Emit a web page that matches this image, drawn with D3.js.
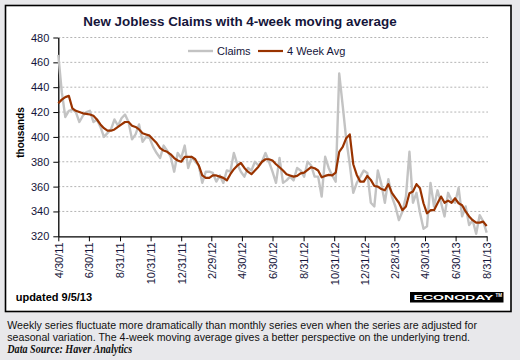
<!DOCTYPE html>
<html><head><meta charset="utf-8">
<script src="https://cdn.jsdelivr.net/npm/d3@7"></script>
<style>
html,body{margin:0;padding:0;background:#e8e8eb;}
svg{display:block;font-family:Arial,"Liberation Sans",sans-serif;}
</style></head><body>
<svg id="chart" width="520" height="360"></svg>
<script>
// ---- data ----
const firstWeek = "4/30/11";          // weekly data, week ending Saturdays
const claims = [466,436,416,421,422,420,412,417,420,421,
  412,414,408,400,403,406,414,409,415,418,
  412,398,402,410,396,400,399,392,387,383,
  393,389,384,372,387,383,393,375,384,380,
  377,363,372,372,371,364,369,363,373,372,
  387,378,372,368,375,373,380,377,380,387,
  380,372,363,383,363,365,368,365,375,373,
  368,380,377,368,368,352,384,375,369,364,
  451,425,398,378,355,363,368,373,371,347,
  344,373,362,347,366,352,344,333,340,352,
  388,347,355,339,326,328,363,344,357,347,
  336,355,349,347,359,336,344,329,333,322,
  337,332,323];
const avg4 = [427,430,432,433,423,421,420,419,418.5,418,
  417,414,410,407,405,405,406,408,410,412,
  412,409,408,406,403,402,401,398,395,391,
  389,388,386,383,381,380,384,384,384,382,
  377,369,367,367,369,369,368,367,365,370,
  374,377,379,375,372,370,373,376,380,382,
  382,381,378,375.6,373,370,369,368,368.6,370.7,
  371.3,373.4,375.6,374.8,373,367.5,368.6,369.4,369,371.3,
  388,392,399,402,378,369.4,364,364,368.6,365.4,
  360.5,360,358,357,362,355,351,347,341,344,
  354.6,356,362,358.7,346.6,338.5,341,341,346.6,352,
  347,348.7,347,350.6,346.6,345,340,336,333,331,
  331,331.8,328.3];
const xTickLabels = ["4/30/11","6/30/11","8/31/11","10/31/11","12/31/11","2/29/12",
  "4/30/12","6/30/12","8/31/12","10/31/12","12/31/12","2/28/13","4/30/13","6/30/13","8/31/13"];
const yTickValues = [320,340,360,380,400,420,440,460,480];
const seriesNames = ["Claims","4 Week Avg"];
const titleText = "New Jobless Claims with 4-week moving average";

// ---- drawing ----
const svg = d3.select("#chart");
const parse = d3.timeParse("%m/%d/%y");
const tickDates = xTickLabels.map(parse);
const start = parse(firstWeek);
const weeks = claims.map((_, i) => d3.timeDay.offset(start, 7 * i));

const x = d3.scaleTime().domain([tickDates[0], tickDates[tickDates.length - 1]]).range([58.3, 486.7]);
const y = d3.scaleLinear().domain([320, 480]).range([236.3, 37.5]);

const navy = "#15153a";

// panel
svg.append("rect").attr("x", 5.5).attr("y", 5.5).attr("width", 505.5).attr("height", 306)
  .attr("fill", "#fff").attr("stroke", "#000").attr("stroke-width", 1.6);

// title
svg.append("text").attr("x", 240).attr("y", 25.5).attr("text-anchor", "middle")
  .attr("font-size", "13.4px").attr("font-weight", "bold").attr("fill", navy).text(titleText);

// grid
svg.append("g").selectAll("line").data(yTickValues.filter(v => v > 320)).join("line")
  .attr("x1", 58.3).attr("x2", 488).attr("y1", d => y(d)).attr("y2", d => y(d))
  .attr("stroke", "#b4b4b4").attr("stroke-width", 1).attr("stroke-dasharray", "2,2");

// y axis
const gy = svg.append("g").attr("transform", "translate(58.3,0)")
  .call(d3.axisLeft(y).tickValues(yTickValues).tickSize(5).tickSizeOuter(0).tickPadding(4).tickFormat(d3.format("d")));
gy.select(".domain").attr("stroke", "#000").attr("stroke-width", 1.3);
gy.selectAll(".tick line").attr("stroke", "#000");
gy.selectAll("text").attr("font-size", "11px").attr("font-family", "Arial,'Liberation Sans',sans-serif").attr("fill", navy);

// x axis
const gx = svg.append("g").attr("transform", "translate(0,236.3)")
  .call(d3.axisBottom(x).tickValues(tickDates).tickSize(5).tickSizeOuter(0)
    .tickFormat((d, i) => xTickLabels[i]));
gx.select(".domain").attr("stroke", "#000").attr("stroke-width", 1.3);
gx.selectAll(".tick line").attr("stroke", "#000");
gx.selectAll("text").attr("font-size", "11px").attr("font-family", "Arial,'Liberation Sans',sans-serif")
  .attr("fill", navy).attr("transform", "rotate(-90)").attr("x", -6).attr("y", 0)
  .attr("dy", "0.35em").attr("text-anchor", "end");

// y title
svg.append("text").attr("transform", "translate(24,132.5) rotate(-90)").attr("text-anchor", "middle")
  .attr("font-size", "10px").attr("font-weight", "bold").attr("fill", "#000").text("thousands");

// lines
const line = d3.line().x((d, i) => x(weeks[i])).y(d => y(d));
svg.append("path").datum(claims).attr("d", line).attr("fill", "none")
  .attr("stroke", "#c3c3c3").attr("stroke-width", 2.4).attr("stroke-linejoin", "round");
svg.append("path").datum(avg4).attr("d", line).attr("fill", "none")
  .attr("stroke", "#993300").attr("stroke-width", 2.2).attr("stroke-linejoin", "round");

// legend
const lg = svg.append("g");
lg.append("line").attr("x1", 188).attr("x2", 213).attr("y1", 51).attr("y2", 51).attr("stroke", "#c3c3c3").attr("stroke-width", 2.4);
lg.append("text").attr("x", 217).attr("y", 55).attr("font-size", "11px").attr("fill", navy).text(seriesNames[0]);
lg.append("line").attr("x1", 258).attr("x2", 283).attr("y1", 51).attr("y2", 51).attr("stroke", "#993300").attr("stroke-width", 2.2);
lg.append("text").attr("x", 287).attr("y", 55).attr("font-size", "11px").attr("fill", navy).text(seriesNames[1]);

// updated
svg.append("text").attr("x", 15.7).attr("y", 300.7).attr("font-size", "11px").attr("font-weight", "bold")
  .attr("fill", "#000").text("updated 9/5/13");

// logo
svg.append("rect").attr("x", 410).attr("y", 292).attr("width", 93.5).attr("height", 10.5).attr("fill", "#000");
svg.append("text").attr("x", 413.5).attr("y", 299.6).attr("font-size", "7.6px").attr("font-weight", "bold")
  .attr("fill", "#fff").attr("textLength", 80).attr("lengthAdjust", "spacingAndGlyphs").text("ECONODAY");
svg.append("text").attr("x", 495.5).attr("y", 297).attr("font-size", "4.5px").attr("font-weight", "bold")
  .attr("fill", "#fff").text("TM");

// footer
const foot = svg.append("g").attr("font-size", "10.6px").attr("fill", "#111");
foot.append("text").attr("x", 7.3).attr("y", 329).text("Weekly series fluctuate more dramatically than monthly series even when the series are adjusted for");
foot.append("text").attr("x", 7.3).attr("y", 341).text("seasonal variation. The 4-week moving average gives a better perspective on the underlying trend.");
foot.append("text").attr("x", 7.3).attr("y", 352.5).attr("font-family", "'Liberation Serif','Times New Roman',serif")
  .attr("font-style", "italic").attr("font-weight", "bold").attr("font-size", "11.5px")
  .attr("textLength", 125).attr("lengthAdjust", "spacingAndGlyphs").text("Data Source: Haver Analytics");
</script>
</body></html>
